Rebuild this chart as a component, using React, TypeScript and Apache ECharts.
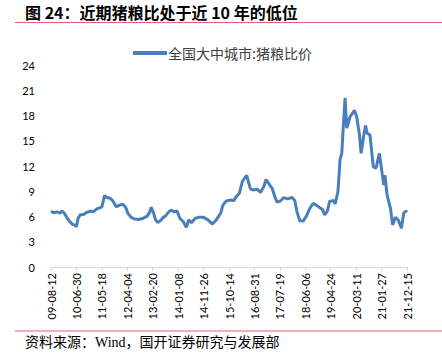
import React, { useEffect, useRef } from "react";
import * as echarts from "echarts";

const titleText = "图 24：近期猪粮比处于近 10 年的低位";
const sourceText = "资料来源：Wind，国开证券研究与发展部";
const seriesName = "全国大中城市:猪粮比价";

// tick labels, one every 46 weeks starting at 2009-08-12
const tickLabels = [
  "09-08-12", "10-06-30", "11-05-18", "12-04-04", "13-02-20", "14-01-08", "14-11-26",
  "15-10-14", "16-08-31", "17-07-19", "18-06-06", "19-04-24", "20-03-11", "21-01-27", "21-12-15",
];
const weeksPerTick = 46;

// weeks since 2009-08-12
const weekIndex = [
  0, 5, 11, 16, 20, 24, 29, 34, 38, 42, 46, 49, 53, 59, 65, 71, 77, 83, 89, 92,
  97, 100, 106, 112, 118, 124, 130, 135, 139, 145, 151, 159, 167, 174, 179, 181, 185, 189, 193, 198,
  203, 207, 213, 217, 223, 228, 233, 239, 245, 249, 254, 261, 267, 276, 284, 292, 299, 307, 311, 317,
  325, 331, 335, 341, 346, 354, 358, 361, 367, 373, 379, 385, 389, 394, 400, 405, 409, 415, 421, 428,
  436, 441, 445, 450, 456, 462, 468, 474, 480, 486, 491, 495, 500, 504, 511, 514, 519, 523, 526, 529,
  532, 535, 541, 549, 553, 558, 561, 565, 569, 572, 577, 583, 588, 594, 599, 602, 604, 608, 614, 618,
  623, 628, 634, 638, 642, 644,
];
const ratioValues = [
  6.6, 6.45, 6.55, 6.4, 6.65, 6.4, 5.85, 5.4, 5.1, 5.0, 4.8, 5.8, 6.2, 6.25, 6.5, 6.65, 6.57, 6.9, 7.05, 7.15,
  8.5, 8.25, 8.2, 7.85, 7.15, 7.35, 7.45, 7.1, 6.4, 5.9, 5.7, 5.65, 5.8, 6.05, 6.55, 7.1, 6.55, 5.6, 5.3, 5.5,
  5.9, 6.05, 6.55, 6.75, 6.55, 6.65, 5.8, 5.4, 4.7, 5.6, 5.25, 5.8, 5.9, 5.9, 5.6, 5.1, 5.6, 6.4, 7.35, 7.85,
  7.95, 7.9, 8.35, 8.8, 10.15, 10.9, 9.9, 9.25, 9.15, 9.25, 8.85, 9.55, 10.4, 9.9, 9.35, 8.35, 7.7, 7.85, 8.25, 8.1,
  8.25, 7.9, 6.55, 5.5, 5.45, 6.05, 6.95, 7.55, 7.35, 7.05, 6.85, 6.2, 6.65, 7.8, 7.9, 7.5, 8.9, 12.8, 13.5, 16.9,
  20.1, 16.5, 17.85, 18.6, 17.85, 15.7, 13.5, 15.3, 16.8, 15.9, 15.7, 11.9, 11.75, 13.5, 11.1, 9.75, 10.9, 8.55, 7.0, 5.0,
  5.9, 5.6, 4.6, 6.4, 6.65, 6.5,
];

export default function App() {
  const ref = useRef<HTMLDivElement>(null);
  useEffect(() => {
    if (!ref.current) return;
    const chart = echarts.init(ref.current, undefined, { renderer: "svg" });
    const data = weekIndex.map((w, i) => [w, ratioValues[i]]);
    chart.setOption({
      animation: false,
      backgroundColor: "#ffffff",
      textStyle: { fontFamily: "Lato, 'Noto Sans CJK SC', sans-serif" },
      grid: { left: 51, right: 35, top: 65, bottom: 90 },
      legend: {
        top: 41,
        left: 128,
        icon: "rect",
        itemWidth: 34,
        itemHeight: 4,
        itemGap: 4,
        textStyle: { fontSize: 14, color: "#404040", fontFamily: "'Noto Sans CJK SC', sans-serif", padding: [0, 0, 0, -4] },
        data: [seriesName],
      },
      xAxis: {
        type: "value",
        min: 0,
        max: weeksPerTick * (tickLabels.length - 1),
        interval: weeksPerTick,
        axisLine: { show: true, lineStyle: { color: "#d9d9d9", width: 1 } },
        axisTick: { show: true, length: 4, lineStyle: { color: "#d9d9d9" } },
        splitLine: { show: false },
        axisLabel: {
          rotate: 90,
          margin: 6,
          fontSize: 11,
          color: "#000000",
          fontFamily: "Lato, sans-serif",
          showMinLabel: true,
          showMaxLabel: true,
          formatter: (v: number) => tickLabels[Math.round(v / weeksPerTick)] ?? "",
        },
      },
      yAxis: {
        type: "value",
        min: 0,
        max: 24,
        interval: 3,
        axisLine: { show: false },
        axisTick: { show: false },
        splitLine: { show: false },
        axisLabel: { fontSize: 11, color: "#000000", margin: 16, fontFamily: "Lato, sans-serif" },
      },
      series: [
        {
          name: seriesName,
          type: "line",
          data,
          showSymbol: false,
          smooth: false,
          lineStyle: { color: "#4A7EBB", width: 3 },
          itemStyle: { color: "#4A7EBB" },
        },
      ],
      graphic: [
        {
          type: "text",
          x: 25,
          y: 12,
          style: {
            text: titleText,
            fontSize: 16,
            fontWeight: "bold",
            fill: "#000000",
            verticalAlign: "middle",
            fontFamily: "'Noto Sans CJK SC', sans-serif",
          },
        },
        {
          type: "line",
          shape: { x1: 15, y1: 22.5, x2: 442, y2: 22.5 },
          style: { stroke: "#e06666", lineWidth: 1.2 },
        },
        {
          type: "line",
          shape: { x1: 15, y1: 331, x2: 442, y2: 331 },
          style: { stroke: "#e06666", lineWidth: 1.2 },
        },
        {
          type: "text",
          x: 25,
          y: 342,
          style: {
            text: sourceText,
            fontSize: 14,
            fill: "#000000",
            verticalAlign: "middle",
            fontFamily: "'Liberation Serif', 'Noto Sans CJK SC', serif",
          },
        },
      ],
    });
    return () => chart.dispose();
  }, []);
  return (
    <div
      ref={ref}
      style={{ position: "fixed", left: 0, top: 0, width: 442, height: 357, background: "#fff" }}
    />
  );
}
